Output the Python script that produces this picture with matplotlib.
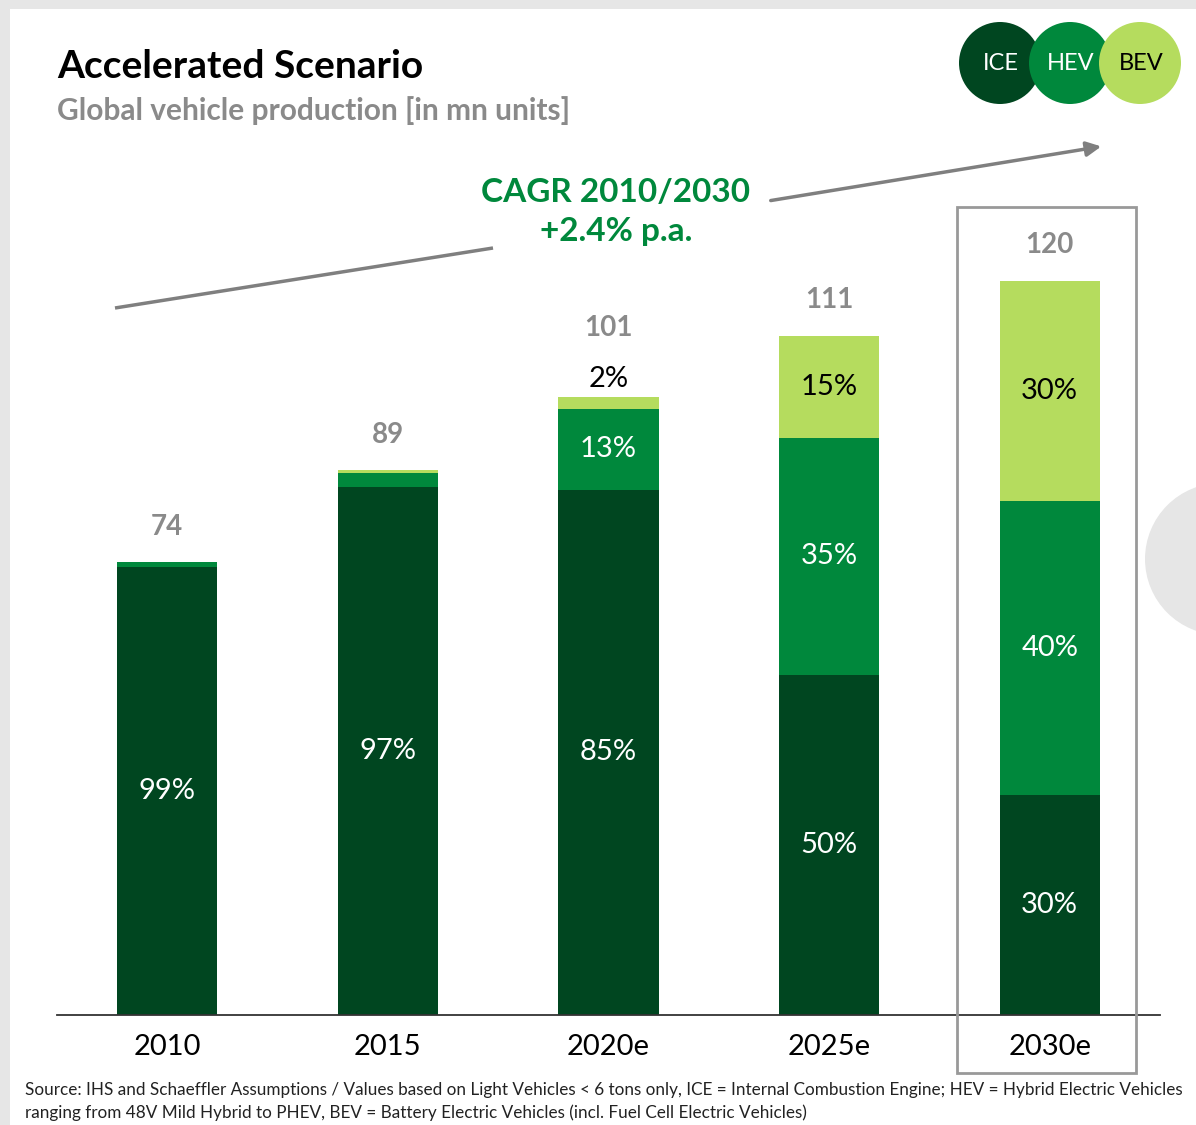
import matplotlib
matplotlib.use("Agg")
from matplotlib import pyplot as plt
from matplotlib.patches import Circle, Rectangle, FancyArrowPatch
import numpy as np

plt.rcParams['font.family'] = ['Lato', 'DejaVu Sans']

# production totals [mn units] and powertrain shares [%]
years = ["2010", "2015", "2020e", "2025e", "2030e"]
totals = [74, 89, 101, 111, 120]
ice_share = [99, 97, 85, 50, 30]
hev_share = [1, 2.5, 13, 35, 40]
bev_share = [0, 0.5, 2, 15, 30]
ice_labels = ["99%", "97%", "85%", "50%", "30%"]
hev_labels = [None, None, "13%", "35%", "40%"]
bev_labels = [None, None, "2%", "15%", "30%"]

ICE_C = "#004620"
HEV_C = "#00883c"
BEV_C = "#b5dc5e"
GREY = "#8a8a8a"

W, H = 1196, 1125
fig = plt.figure(figsize=(W / 100, H / 100), dpi=100)
fig.patch.set_facecolor("white")

# page frame behind everything
bg = fig.add_axes([0, 0, 1, 1], zorder=0)
bg.set_xlim(0, W)
bg.set_ylim(H, 0)
bg.axis("off")
bg.add_patch(Rectangle((0, 0), W, 9, color="#e6e6e6", lw=0))
bg.add_patch(Rectangle((0, 0), 10, H, color="#e6e6e6", lw=0))
bg.add_patch(Circle((1221, 559), 76, color="#e6e6e6", lw=0))

# bar chart
px_per_unit = 6.12
base_px = 1015
top_px = 130
ax = fig.add_axes([57 / W, (H - base_px) / H, (1160 - 57) / W, (base_px - top_px) / H], zorder=1)
ax.patch.set_alpha(0)
ax.set_xlim(-0.5, 4.5)
ax.set_ylim(0, (base_px - top_px) / px_per_unit)

x = np.arange(len(years))
tot = np.array(totals, dtype=float)
ice = tot * np.array(ice_share) / 100
hev = tot * np.array(hev_share) / 100
bev = tot * np.array(bev_share) / 100
bw = 0.455

ax.bar(x, ice, bw, color=ICE_C, lw=0)
ax.bar(x, hev, bw, bottom=ice, color=HEV_C, lw=0)
ax.bar(x, bev, bw, bottom=ice + hev, color=BEV_C, lw=0)

for i in range(len(years)):
    if ice_labels[i]:
        ax.text(x[i], ice[i] / 2, ice_labels[i], ha="center", va="center",
                color="white", fontsize=21)
    if hev_labels[i]:
        ax.text(x[i], ice[i] + hev[i] / 2, hev_labels[i], ha="center", va="center",
                color="white", fontsize=21)
    if bev_labels[i]:
        if bev[i] < 5:
            ax.text(x[i], tot[i] + 3, bev_labels[i], ha="center", va="center",
                    color="black", fontsize=21)
            tot_off = 11.3
        else:
            ax.text(x[i], ice[i] + hev[i] + bev[i] / 2, bev_labels[i], ha="center",
                    va="center", color="black", fontsize=21)
            tot_off = 5.8
    else:
        tot_off = 5.8
    ax.text(x[i], tot[i] + tot_off, str(totals[i]), ha="center", va="center",
            color=GREY, fontsize=20, fontweight="bold")

for s in ["top", "right", "left"]:
    ax.spines[s].set_visible(False)
ax.spines["bottom"].set_color("#333333")
ax.spines["bottom"].set_linewidth(1.3)
ax.set_yticks([])
ax.set_xticks(x)
ax.set_xticklabels(years, fontsize=21)
ax.tick_params(axis="x", length=0, pad=14)

# annotations on top
ov = fig.add_axes([0, 0, 1, 1], zorder=2)
ov.set_xlim(0, W)
ov.set_ylim(H, 0)
ov.axis("off")
ov.patch.set_alpha(0)

ov.text(57, 66, "Accelerated Scenario", fontsize=28, fontweight="bold",
        color="black", va="center", ha="left")
ov.text(57, 111, "Global vehicle production [in mn units]", fontsize=21.5,
        fontweight="bold", color=GREY, va="center", ha="left")

ov.text(616, 212, "CAGR 2010/2030\n+2.4% p.a.", fontsize=24, fontweight="bold",
        color=HEV_C, ha="center", va="center", linespacing=1.45)
ov.plot([115, 493], [308, 248], color="#7f7f7f", lw=2.5, solid_capstyle="butt")
ov.add_patch(FancyArrowPatch((768, 201), (1104, 146), arrowstyle="-|>",
                             mutation_scale=22, color="#7f7f7f", lw=2.5))

ov.add_patch(Rectangle((957, 207), 179, 866, fill=False, ec="#999999", lw=2))

# legend discs
for cx, lab, fc, tc in [(1000, "ICE", ICE_C, "white"),
                        (1070, "HEV", HEV_C, "white"),
                        (1140, "BEV", BEV_C, "black")]:
    ov.add_patch(Circle((cx, 63), 41, color=fc, lw=0))
    ov.text(cx + 1, 63, lab, color=tc, fontsize=17, ha="center", va="center")

ov.text(25, 1090, "Source: IHS and Schaeffler Assumptions / Values based on Light Vehicles < 6 tons only, "
        "ICE = Internal Combustion Engine; HEV = Hybrid Electric Vehicles",
        fontsize=12.3, color="#222222", ha="left", va="center")
ov.text(25, 1113, "ranging from 48V Mild Hybrid to PHEV, BEV = Battery Electric Vehicles "
        "(incl. Fuel Cell Electric Vehicles)",
        fontsize=12.3, color="#222222", ha="left", va="center")

fig.savefig("out.png", dpi=100)
